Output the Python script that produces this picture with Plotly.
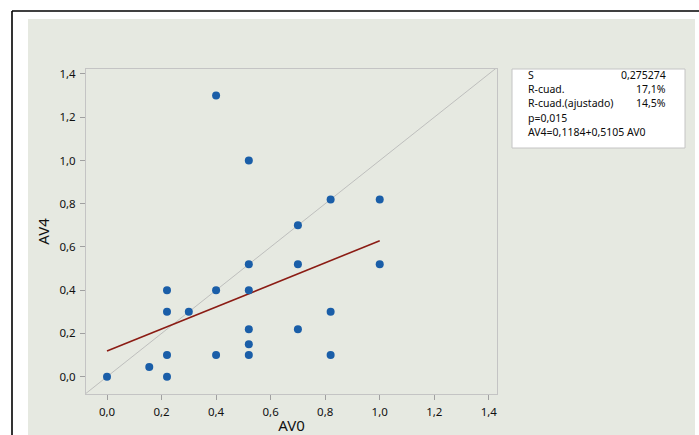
import plotly.graph_objects as go

# Data
av0 = [0.0, 0.155, 0.22, 0.22, 0.22, 0.22, 0.30, 0.40, 0.40, 0.40,
       0.52, 0.52, 0.52, 0.52, 0.52, 0.52, 0.70, 0.70, 0.70,
       0.82, 0.82, 0.82, 1.0, 1.0]
av4 = [0.0, 0.045, 0.0, 0.10, 0.30, 0.40, 0.30, 0.10, 0.40, 1.30,
       0.10, 0.15, 0.22, 0.40, 0.52, 1.0, 0.22, 0.52, 0.70,
       0.10, 0.30, 0.82, 0.52, 0.82]
intercept = 0.1184
slope = 0.5105
stat_labels = ["S", "R-cuad.", "R-cuad.(ajustado)"]
stat_values = ["0,275274", "17,1%", "14,5%"]
p_text = "p=0,015"
eq_text = "AV4=0,1184+0,5105 AV0"
tick_vals = [0.0, 0.2, 0.4, 0.6, 0.8, 1.0, 1.2, 1.4]

XR = [-0.077, 1.43]
YR = [-0.08, 1.423]

font_family = "Noto Sans, Open Sans, DejaVu Sans, sans-serif"

fig = go.Figure()

# y = x reference line across the full plot area
lo = min(XR[0], YR[0]) - 0.1
hi = max(XR[1], YR[1]) + 0.1
fig.add_trace(go.Scatter(x=[lo, hi], y=[lo, hi], mode="lines",
                         line=dict(color="#b4b4b4", width=0.8),
                         hoverinfo="skip", showlegend=False))

# fitted line from min to max x
xf = [min(av0), max(av0)]
yf = [intercept + slope * v for v in xf]
fig.add_trace(go.Scatter(x=xf, y=yf, mode="lines",
                         line=dict(color="#8b1c14", width=1.6),
                         showlegend=False))

fig.add_trace(go.Scatter(x=av0, y=av4, mode="markers",
                         marker=dict(color="#1a5ea8", size=8),
                         showlegend=False))

# plot area pixel geometry
L, T, R, B = 86, 69, 497, 394
W, H = 699, 435
pw, ph = R - L, B - T

def px(x):
    return (x - L) / pw

def py(y):
    return (B - y) / ph

shapes = [
    dict(type="rect", xref="paper", yref="paper", x0=px(28), x1=px(695), y0=py(19), y1=py(440),
         fillcolor="#e6e9e1", line=dict(width=0), layer="below"),
    dict(type="line", xref="paper", yref="paper", x0=px(12), x1=px(705), y0=py(11), y1=py(11),
         line=dict(color="black", width=1.6)),
    dict(type="line", xref="paper", yref="paper", x0=px(12), x1=px(12), y0=py(11), y1=py(440),
         line=dict(color="black", width=1.6)),
    dict(type="rect", xref="paper", yref="paper", x0=px(512), x1=px(685), y0=py(148), y1=py(69),
         fillcolor="#ffffff", line=dict(color="#c4c4c4", width=1)),
]

txt_font = dict(family=font_family, size=10.5, color="#0a0a0a")
annotations = []
ys = [75, 89, 103]
for lab, val, yy in zip(stat_labels, stat_values, ys):
    annotations.append(dict(xref="paper", yref="paper", x=px(526), y=py(yy), text=lab,
                            showarrow=False, xanchor="left", yanchor="middle", font=txt_font))
    annotations.append(dict(xref="paper", yref="paper", x=px(668), y=py(yy), text=val,
                            showarrow=False, xanchor="right", yanchor="middle", font=txt_font))
annotations.append(dict(xref="paper", yref="paper", x=px(526), y=py(118), text=p_text,
                        showarrow=False, xanchor="left", yanchor="middle", font=txt_font))
annotations.append(dict(xref="paper", yref="paper", x=px(526), y=py(132), text=eq_text,
                        showarrow=False, xanchor="left", yanchor="middle", font=txt_font))

axis_common = dict(
    tickvals=tick_vals, tickformat=".1f", ticks="outside", ticklen=5,
    tickcolor="#a0a0a0", showgrid=False, zeroline=False, showline=True,
    linecolor="#c4c4c4", linewidth=1, mirror=True, ticklabelstandoff=2,
    automargin=False,
    tickfont=dict(family=font_family, size=11.5, color="#111"),
)

fig.update_layout(
    width=W, height=H,
    margin=dict(l=L, r=W - R, t=T, b=H - B, pad=0),
    paper_bgcolor="white",
    plot_bgcolor="#fdfdfa",
    separators=",.",
    shapes=shapes,
    annotations=annotations,
    xaxis=dict(range=XR, title=dict(text="AV0", standoff=1,
               font=dict(family=font_family, size=15, color="#111")), **axis_common),
    yaxis=dict(range=YR, title=dict(text="AV4", standoff=6,
               font=dict(family=font_family, size=15, color="#111")), **axis_common),
)

fig.write_html("out.html")
